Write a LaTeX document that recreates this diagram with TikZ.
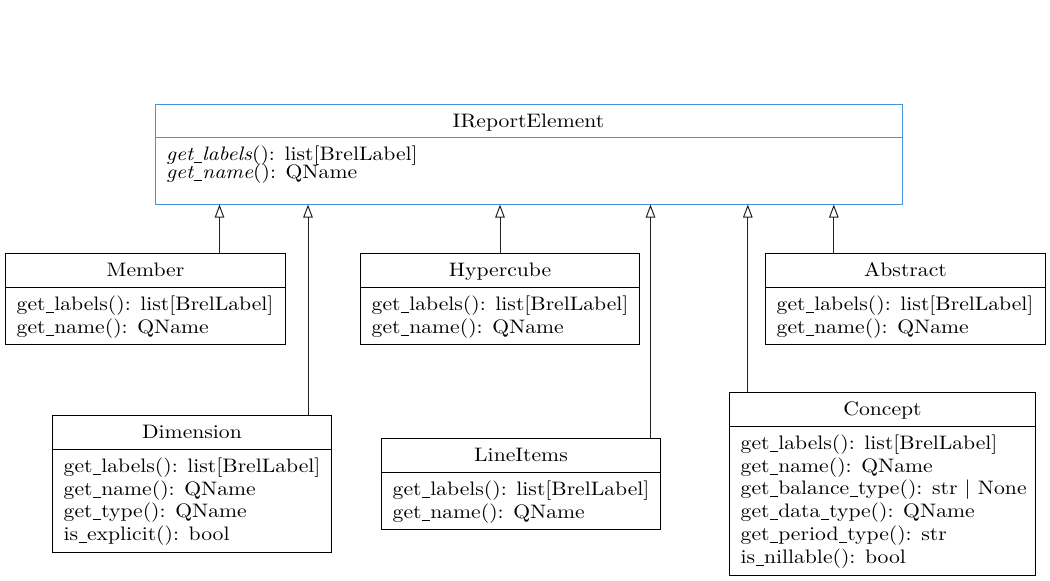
\documentclass[tikz,border=0pt]{standalone}
\usepackage{fontspec}
\setmainfont{lmroman10-regular.otf}[ItalicFont=lmroman10-italic.otf,FakeStretch=1.11]
\usetikzlibrary{arrows.meta}
\definecolor{ifblue}{HTML}{4A90E2}
\definecolor{edgegray}{HTML}{222222}
\newcommand\fsz{\fontsize{19.5}{22.7}\selectfont}
\newcommand\us{\kern0.3pt\rule[-2.2pt]{8.2pt}{0.7pt}\kern0.3pt}
\tikzset{
  cls/.style={draw=black, line width=1pt, rectangle, inner sep=0pt, anchor=north west},
  ttl/.style={font=\fsz, inner sep=0pt, anchor=base},
  bdy/.style={font=\fsz, inner sep=0pt, anchor=base west},
  inh/.style={draw=edgegray, line width=1pt, -{Triangle[open,length=13pt,width=9.5pt,line width=1pt]}},
}
% #1 name, #2 x, #3 y, #4 w, #5 h, #6 colour, #7 title, #8 first baseline offset, #9 line spacing, then lines
\newcommand\umlclass[9]{%
  \node[cls, draw=#6, minimum width=#4pt, minimum height=#5pt] (#1) at (#2,#3) {};
  \draw[draw=#6, line width=1pt] ([yshift=-34pt]#1.north west) -- ([yshift=-34pt]#1.north east);
  \node[ttl] (#1-title) at ([yshift=-23.5pt]#1.north) {#7};
  \umlbody{#1}{#8}{#9}%
}
\newcommand\umlbody[4]{%
  \foreach \t [count=\i] in {#4}
    \node[bdy] (#1-\i) at ([xshift=11.5pt,yshift={-#2pt-(\i-1)*#3pt}]#1.north west) {\t};
}
\begin{document}
\begin{tikzpicture}[x=1pt,y=-1pt]
\useasboundingbox (0,0) rectangle (1050,581);

\umlclass{ire}{154.5}{103.5}{747}{100}{ifblue}{IReportElement}{57}{18}{{\textit{get\us labels}(): list[BrelLabel]},{\textit{get\us name}(): QName}}
\umlclass{member}{5}{253}{280}{91}{black}{Member}{57.5}{22.7}{{get\us labels(): list[BrelLabel]},{get\us name(): QName}}
\umlclass{hypercube}{360}{253}{279}{91}{black}{Hypercube}{57.5}{22.7}{{get\us labels(): list[BrelLabel]},{get\us name(): QName}}
\umlclass{abstract}{765}{253}{280}{91}{black}{Abstract}{57.5}{22.7}{{get\us labels(): list[BrelLabel]},{get\us name(): QName}}
\umlclass{dimension}{52}{415}{279}{137}{black}{Dimension}{57.5}{22.7}{{get\us labels(): list[BrelLabel]},{get\us name(): QName},{get\us type(): QName},{is\us explicit(): bool}}
\umlclass{lineitems}{381}{438}{279}{91}{black}{LineItems}{57.5}{22.7}{{get\us labels(): list[BrelLabel]},{get\us name(): QName}}
\umlclass{concept}{729}{392}{306}{183}{black}{Concept}{57.5}{22.7}{{get\us labels(): list[BrelLabel]},{get\us name(): QName},{get\us balance\us type(): str | None},{get\us data\us type(): QName},{get\us period\us type(): str},{is\us nillable(): bool}}

\coordinate (cm) at ([xshift=74pt]member.north);
\coordinate (cd) at ([xshift=116pt]dimension.north);
\coordinate (ch) at (hypercube.north);
\coordinate (cl) at ([xshift=129.5pt]lineitems.north);
\coordinate (cc) at ([xshift=-134.7pt]concept.north);
\coordinate (ca) at ([xshift=-71.7pt]abstract.north);
\foreach \c in {cm,cd,ch,cl,cc,ca}
  \draw[inh] (\c) -- (\c |- ire.south);
\end{tikzpicture}
\end{document}
